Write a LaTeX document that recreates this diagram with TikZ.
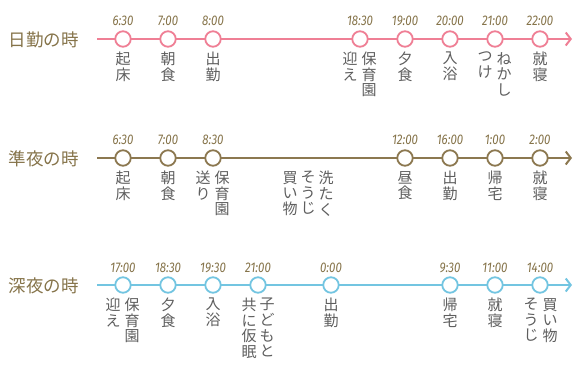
\documentclass[tikz,border=0pt]{standalone}
\usepackage{fontspec}
\usepackage{graphicx}
\setmainfont{Noto Sans CJK JP}
\newfontfamily\timefont{Fira Sans}
\usetikzlibrary{arrows.meta}
\definecolor{pinkc}{HTML}{EF7F95}
\definecolor{brownc}{HTML}{8C7850}
\definecolor{bluec}{HTML}{73C5E1}
\definecolor{txt}{HTML}{5E5E5E}
\definecolor{lab}{HTML}{857349}
\newcommand{\tmtxt}[1]{\scalebox{0.82}[1]{#1}}
\tikzset{
 tl/.style={line width=2.6pt, -{Straight Barb[length=5pt,width=13pt,line width=2pt]}},
 dot/.style={circle, draw, fill=white, line width=1.8pt, minimum size=15.5pt, inner sep=0pt},
 tm/.style={font=\timefont\itshape\fontsize{14}{14}\selectfont, text=lab, inner sep=0pt},
 vcol/.style={font=\fontsize{15}{15.6}\selectfont, text=txt, align=center, anchor=north, inner sep=0pt},
 rowlab/.style={font=\fontsize{17.5}{17.5}\selectfont, text=lab, inner sep=0pt},
}
\begin{document}
\begin{tikzpicture}[x=1pt,y=-1pt]
\useasboundingbox (0,0) rectangle (575,365);
% ---------- row 1
\node[rowlab] (L1) at (44,40) {日勤の時};
\coordinate (s1) at (97,39); \coordinate (e1) at (572,39);
\draw[tl, pinkc] (s1) -- (e1);
\foreach \n/\x/\t in {a/123/6:30, b/168/7:00, c/213/8:00, d/360/18:30, e/405/19:00, f/450/20:00, g/495/21:00, h/540/22:00}{
  \node[dot, draw=pinkc] (r1\n) at (\x,39) {};
  \node[tm] (t1\n) at (\x,20.5) {\tmtxt{\t}};
}
\node[vcol] (x1a) at (123,52) {起\\床};
\node[vcol] (x1b) at (168,52) {朝\\食};
\node[vcol] (x1c) at (213,52) {出\\勤};
\node[vcol] (x1d1) at (369,52) {保\\育\\園};
\node[vcol] (x1d2) at (350,52) {迎\\え};
\node[vcol] (x1e) at (405,52) {夕\\食};
\node[vcol] (x1f) at (450,52) {入\\浴};
\node[vcol] (x1g1) at (504,52) {ね\\か\\し};
\node[vcol] (x1g2) at (485,52) {つ\\け};
\node[vcol] (x1h) at (540,52) {就\\寝};
% ---------- row 2
\node[rowlab] (L2) at (44,159) {準夜の時};
\coordinate (s2) at (97,158); \coordinate (e2) at (572,158);
\draw[tl, brownc] (s2) -- (e2);
\foreach \n/\x/\t in {a/123/6:30, b/168/7:00, c/213/8:30, e/405/12:00, f/450/16:00, g/495/1:00, h/540/2:00}{
  \node[dot, draw=brownc] (r2\n) at (\x,158) {};
  \node[tm] (t2\n) at (\x,140) {\tmtxt{\t}};
}
\node[vcol] (x2a) at (123,171) {起\\床};
\node[vcol] (x2b) at (168,171) {朝\\食};
\node[vcol] (x2c1) at (222,171) {保\\育\\園};
\node[vcol] (x2c2) at (203,171) {送\\り};
\node[vcol] (x2d1) at (326,171) {洗\\た\\く};
\node[vcol] (x2d2) at (308,171) {そ\\う\\じ};
\node[vcol] (x2d3) at (290,171) {買\\い\\物};
\node[vcol] (x2e) at (405,171) {昼\\食};
\node[vcol] (x2f) at (450,171) {出\\勤};
\node[vcol] (x2g) at (495,171) {帰\\宅};
\node[vcol] (x2h) at (540,171) {就\\寝};
% ---------- row 3
\node[rowlab] (L3) at (44,286) {深夜の時};
\coordinate (s3) at (97,285); \coordinate (e3) at (572,285);
\draw[tl, bluec] (s3) -- (e3);
\foreach \n/\x/\t in {a/123/17:00, b/168/18:30, c/213/19:30, d/258/21:00, e/331/0:00, f/450/9:30, g/495/11:00, h/540/14:00}{
  \node[dot, draw=bluec] (r3\n) at (\x,285) {};
  \node[tm] (t3\n) at (\x,268) {\tmtxt{\t}};
}
\node[vcol] (x3a1) at (132,298) {保\\育\\園};
\node[vcol] (x3a2) at (113,298) {迎\\え};
\node[vcol] (x3b) at (168,298) {夕\\食};
\node[vcol] (x3c) at (213,298) {入\\浴};
\node[vcol] (x3d1) at (267,298) {子\\ど\\も\\と};
\node[vcol] (x3d2) at (249,298) {共\\に\\仮\\眠};
\node[vcol] (x3e) at (331,298) {出\\勤};
\node[vcol] (x3f) at (450,298) {帰\\宅};
\node[vcol] (x3g) at (495,298) {就\\寝};
\node[vcol] (x3h1) at (550,298) {買\\い\\物};
\node[vcol] (x3h2) at (531,298) {そ\\う\\じ};
\end{tikzpicture}
\end{document}
